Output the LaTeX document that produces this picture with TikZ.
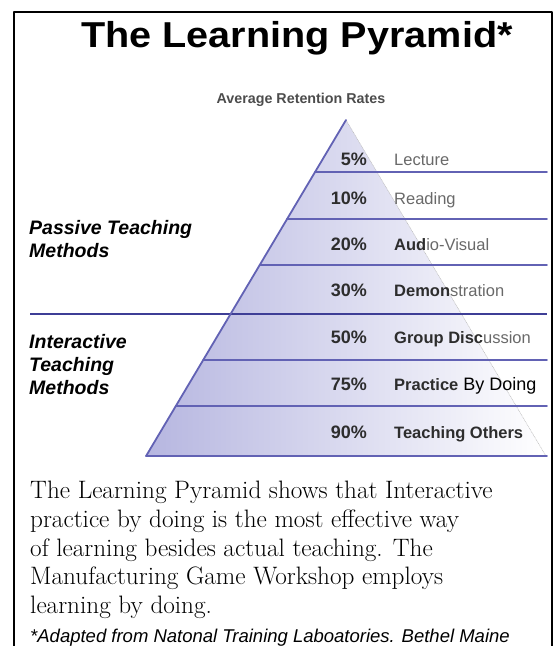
\documentclass[tikz,border=0pt]{standalone}
\usepackage{fontspec}
\setsansfont{Liberation Sans}
\definecolor{pyrfill}{RGB}{182,182,224}
\definecolor{pyrline}{RGB}{98,98,180}
\definecolor{sepline}{RGB}{62,62,150}
\definecolor{txtdark}{RGB}{45,45,45}
\definecolor{txtlight}{RGB}{105,105,105}
\newcommand\bd[1]{{\bfseries\color{txtdark}#1}}
\newcommand\lt[1]{{\color{txtlight}#1}}
\begin{document}
\begin{tikzpicture}[x=1pt,y=-1pt,line join=round,line cap=round,
	pct/.style={anchor=base east,inner sep=0pt,text=txtdark,font=\sffamily\bfseries\fontsize{18}{18}\selectfont},
	meth/.style={anchor=base west,inner sep=0pt,font=\sffamily\fontsize{16.5}{16.5}\selectfont},
	side/.style={anchor=north west,inner sep=0pt,align=left,font=\sffamily\bfseries\itshape\fontsize{19.5}{23}\selectfont},
	level/.style={pyrline,line width=1.8pt}]
	\useasboundingbox (0,0) rectangle (556,646);
	\def\xa{346}%x of the apex
	\def\ya{120}%y of the apex
	\def\yb{456}%y of the base
	\def\k{0.595}%half width per unit of height
	\def\xe{547}%right end of the lines
	\path
	(\xa,\ya) coordinate (A)
	({\xa-\k*(\yb-\ya)},\yb) coordinate (L)
	({\xa+\k*(\yb-\ya)},\yb) coordinate (R)
	;
	%========frame
	\draw[line width=2pt,line cap=butt] (14,660) -- (14,12) -- (552,12) -- (552,660);
	%========title
	\node[anchor=base,inner sep=0pt,font=\sffamily\bfseries\fontsize{36}{36}\selectfont] (title) at (297,47) {\scalebox{1.1}[1]{The Learning Pyramid*}};
	\node[inner sep=0pt,text=black!70,font=\sffamily\bfseries\fontsize{14.3}{14.3}\selectfont] (avg) at (301,100) {Average Retention Rates};
	%========pyramid
	\shade[left color=pyrfill,right color=white] (A) -- (L) -- (R) -- cycle;
	\draw[black!25,densely dotted,line width=0.6pt] (A) -- (R);
	\foreach \y in {172,219,265,360,406,456}
	\draw[level] ({\xa-\k*(\y-\ya)},\y) -- (\xe,\y);
	\draw[sepline,line width=2.6pt,line cap=butt] (30,314) -- (\xe,314);
	\draw[pyrline,line width=1.8pt] (A) -- (L);
	%========rates
	\node[pct] (p1) at (367,165) {5\%};
	\node[pct] (p2) at (367,204) {10\%};
	\node[pct] (p3) at (367,250) {20\%};
	\node[pct] (p4) at (367,296) {30\%};
	\node[pct] (p5) at (367,343) {50\%};
	\node[pct] (p6) at (367,390) {75\%};
	\node[pct] (p7) at (367,438) {90\%};
	\node[meth] (m1) at (394,165) {\lt{Lecture}};
	\node[meth] (m2) at (394,204) {\lt{Reading}};
	\node[meth] (m3) at (394,250) {\bd{Aud}\lt{io-Visual}};
	\node[meth] (m4) at (394,296) {\bd{Demon}\lt{stration}};
	\node[meth] (m5) at (394,343) {\bd{Group Disc}\lt{ussion}};
	\node[meth] (m6) at (394,390) {\bd{Practice}{\fontsize{18}{18}\selectfont\ By Doing}};
	\node[meth] (m7) at (394,438) {\bd{Teaching Others}};
	%========methods
	\node[side] (passive) at (29,220) {Passive Teaching\\Methods};
	\node[side] (inter) at (29,334) {Interactive\\Teaching\\Methods};
	%========text
	\node[anchor=north west,inner sep=0pt,align=left,font=\fontsize{25.2}{28.7}\selectfont] (para) at (30,481)
	{The Learning Pyramid shows that Interactive\\practice by doing is the most effective way\\of learning besides actual teaching. The\\Manufacturing Game Workshop employs\\learning by doing.};
	\node[anchor=base west,inner sep=0pt,font=\sffamily\itshape\fontsize{18.5}{18.5}\selectfont] (note) at (30,642) {*Adapted from Natonal Training Laboatories. Bethel Maine};
\end{tikzpicture}
\end{document}
